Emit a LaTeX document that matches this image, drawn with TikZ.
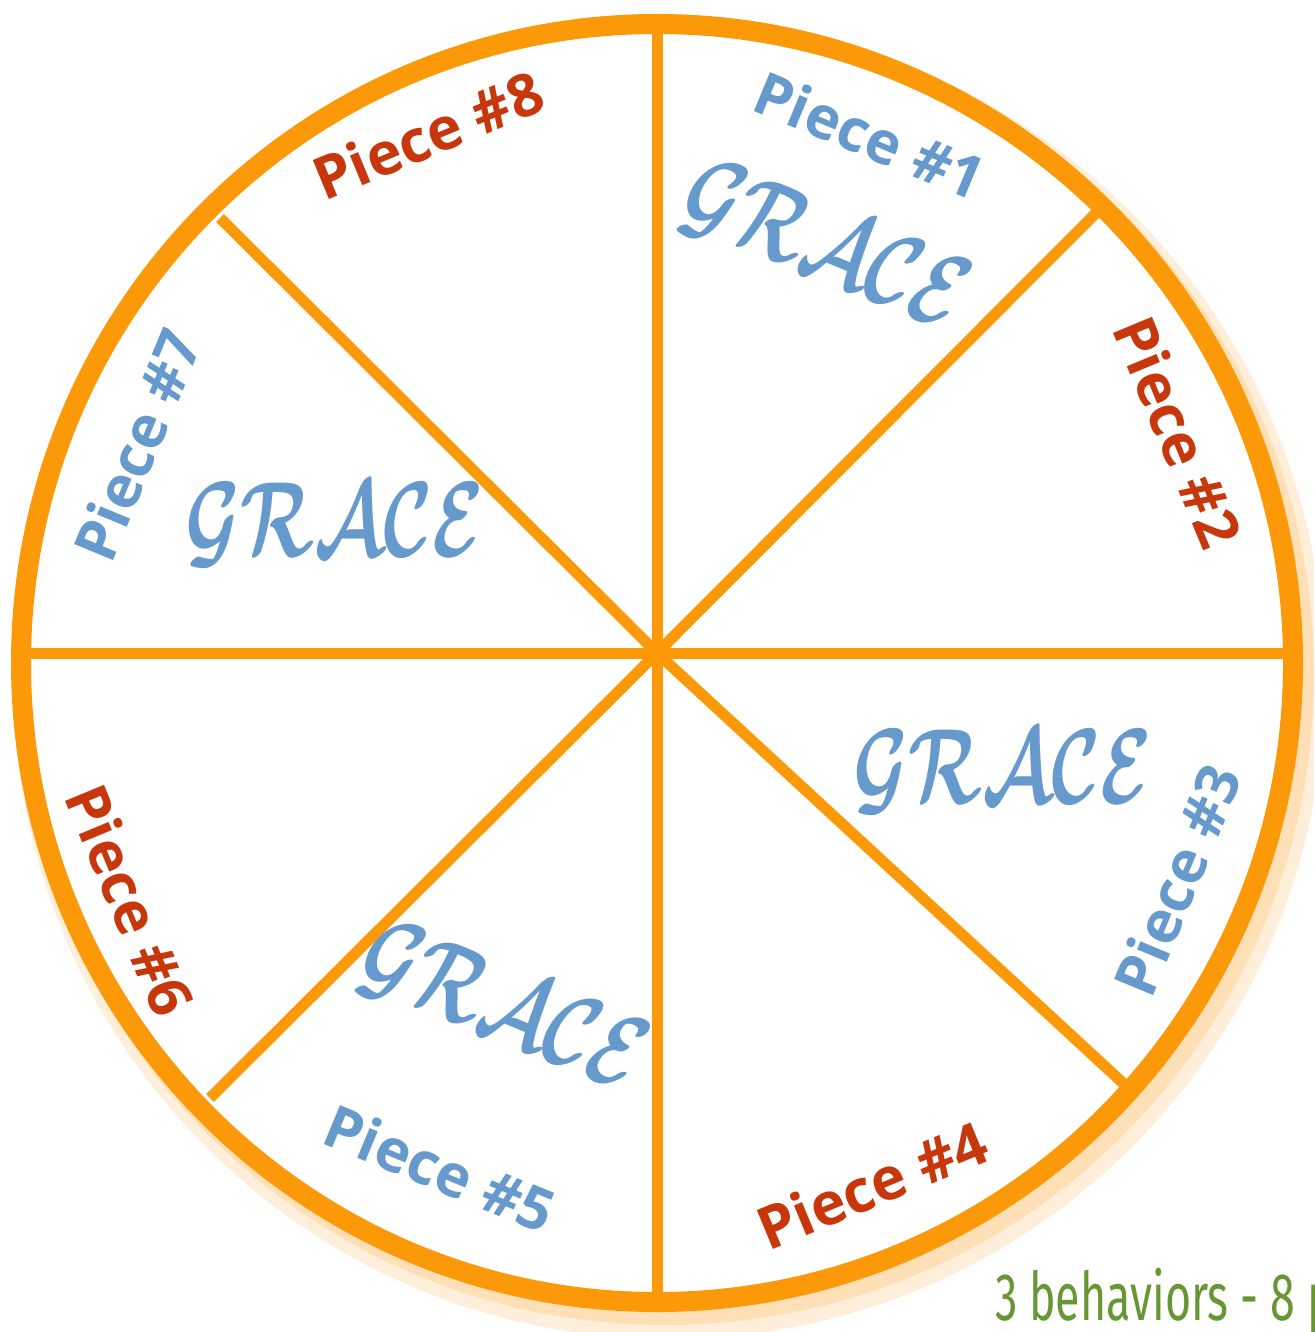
\documentclass[tikz,border=0pt]{standalone}
\usepackage{fontspec}
\newfontfamily\piecefont{Open Sans}
\newfontfamily\handfont{Fira Sans}
\definecolor{ringc}{RGB}{252,153,8}
\definecolor{pblue}{RGB}{102,153,204}
\definecolor{pred}{RGB}{200,55,12}
\definecolor{hgreen}{RGB}{104,150,52}
\definecolor{shadowc}{RGB}{255,224,182}
\newcommand{\gracetext}{\scalebox{3.0}[4.3]{\boldmath$\mathcal{GRACE}$}}
\begin{document}
\begin{tikzpicture}[x=1pt,y=-1pt,
  piece/.style={font=\piecefont\bfseries\fontsize{59}{59}\selectfont, inner sep=0pt},
  pb/.style={piece, text=pblue},
  pr/.style={piece, text=pred},
  grace/.style={text=pblue, font=\fontsize{24.88}{25}\selectfont, inner sep=0pt},
  spoke/.style={draw=ringc, line width=11pt},
  ringline/.style={draw=ringc, line width=20pt}
]
\useasboundingbox (0,0) rectangle (1314,1332);
\clip (0,0) rectangle (1314,1332);
% shadow
\draw[shadowc, line width=40pt, opacity=0.5] (669,680) ellipse [x radius=636, y radius=639];
\draw[shadowc, line width=24pt] (666,674) ellipse [x radius=636, y radius=639];
\fill[white] (657,663) ellipse [x radius=636, y radius=639];
% spokes
\coordinate (c) at (657,653);
\coordinate (n) at (657,30);
\coordinate (s) at (657,1296);
\coordinate (w) at (28,653);
\coordinate (e) at (1287,653);
\coordinate (ne) at (1097,212);
\coordinate (nw) at (220,218);
\coordinate (sw) at (210,1098);
\coordinate (se) at (1124,1084);
\foreach \p in {n,s,w,e,ne,nw,sw,se} \draw[spoke] (c) -- (\p);
% ring
\draw[ringline] (657,663) ellipse [x radius=636, y radius=639];
% piece labels
\node[pb, rotate=-22.5] (p1) at (870,135) {Piece \#1};
\node[pr, rotate=-67.5] (p2) at (1178,432) {Piece \#2};
\node[pb, rotate=67.5]  (p3) at (1177,880) {Piece \#3};
\node[pr, rotate=22.5]  (p4) at (872,1185) {Piece \#4};
\node[pb, rotate=-22.5] (p5) at (440,1168) {Piece \#5};
\node[pr, rotate=-67.5] (p6) at (130,900) {Piece \#6};
\node[pb, rotate=67.5]  (p7) at (137,445) {Piece \#7};
\node[pr, rotate=22.5]  (p8) at (428,135) {Piece \#8};
% GRACE labels
\node[grace, rotate=-22.5] (g1) at (825,247) {\gracetext};
\node[grace] (g7) at (335,525) {\gracetext};
\node[grace] (g3) at (1003,772) {\gracetext};
\node[grace, rotate=-22.5] (g5) at (503,1008) {\gracetext};
% footnote
\node[anchor=base west, inner sep=0pt, text=hgreen, font=\handfont\fontsize{64}{64}\selectfont, xscale=0.7, yscale=1.05] (foot) at (995,1320) {3 behaviors - 8 p};
\end{tikzpicture}
\end{document}
